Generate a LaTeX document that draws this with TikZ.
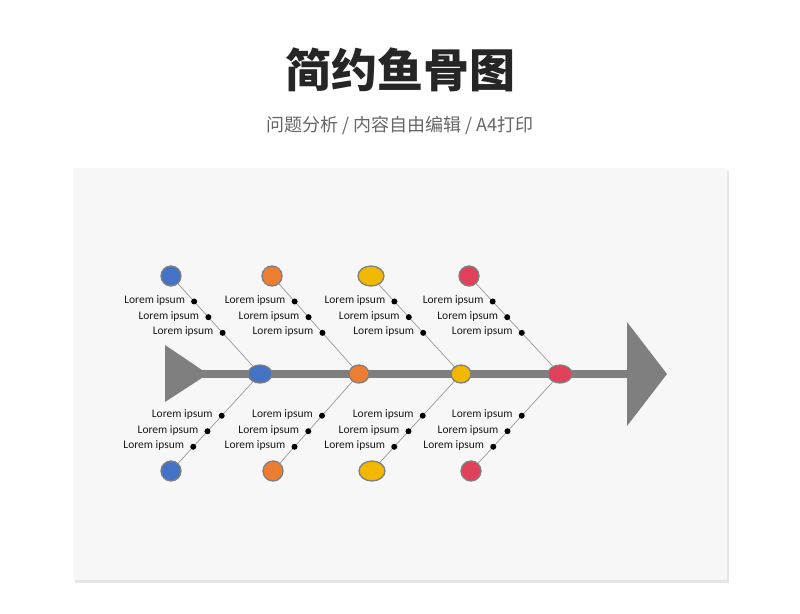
\documentclass[tikz,border=0pt]{standalone}
\usepackage{fontspec}
\setmainfont{Carlito}
\newfontfamily\cjk{Noto Sans CJK SC}
\usetikzlibrary{shapes.geometric}
\definecolor{spinegray}{HTML}{7F7F7F}
\definecolor{fbblue}{HTML}{4472C4}
\definecolor{fborange}{HTML}{ED7D31}
\definecolor{fbyellow}{HTML}{F2B800}
\definecolor{fbred}{HTML}{E0405A}
\tikzset{
  bone/.style={draw=spinegray!80, line width=0.7pt},
  joint/.style={ellipse, draw=spinegray, line width=1.3pt, inner sep=0pt, minimum width=#1},
  blob/.style={circle, fill=black, inner sep=0pt, minimum size=6pt},
  lbl/.style={font=\fontsize{11.5pt}{13}\selectfont, text=black!90, anchor=east, inner sep=0pt}}

\begin{document}
\begin{tikzpicture}[x=1pt,y=-1pt]
\useasboundingbox (0,0) rectangle (800,613);
\fill[white] (0,0) rectangle (800,613);
% title
\node (title) at (400,70) {\cjk\bfseries\fontsize{46pt}{50}\selectfont\color{black!85}简约鱼骨图};
\node (sub) at (400,125) {\cjk\fontsize{18pt}{20}\selectfont\color{black!60}问题分析 / 内容自由编辑 / A4打印};
% card
\fill[black!10] (75,171) rectangle (729,583);
\fill[black!3] (73,168) rectangle (727,580);
% spine
\fill[spinegray] (165,345) -- (208,374) -- (165,402) -- cycle;
\fill[spinegray] (627,322) -- (667,374) -- (627,426) -- cycle;
\draw[spinegray, line width=8pt] (200,374) -- (630,374);
% bones
\foreach \n/\c/\sx/\tx/\bx/\sw/\tw/\bw in {a/fbblue/260/171/171/24/20/20, b/fborange/359/272/273/20/20/20,
    c/fbyellow/461/371/372/20/26/26, d/fbred/560/469/471/24/20/20}{
  \coordinate (s\n) at (\sx,374);
  \coordinate (t\n) at (\tx,276);
  \coordinate (b\n) at (\bx,471);
  \draw[bone] (t\n) -- (s\n) node[pos=0.26, blob] (t\n1) {} node[pos=0.42, blob] (t\n2) {} node[pos=0.58, blob] (t\n3) {};
  \draw[bone] (b\n) -- (s\n) node[pos=0.25, blob] (b\n1) {} node[pos=0.41, blob] (b\n2) {} node[pos=0.57, blob] (b\n3) {};
  \node[joint=\sw, minimum height=18pt, fill=\c] at (s\n) {};
  \node[joint=\tw, minimum height=20pt, fill=\c] at (t\n) {};
  \node[joint=\bw, minimum height=20pt, fill=\c] at (b\n) {};
  \foreach \k in {1,2,3}{
    \node[lbl] at ([xshift=-9pt,yshift=1pt]t\n\k) {Lorem ipsum};
    \node[lbl] at ([xshift=-9pt,yshift=1pt]b\n\k) {Lorem ipsum};
  }
}
\end{tikzpicture}
\end{document}
